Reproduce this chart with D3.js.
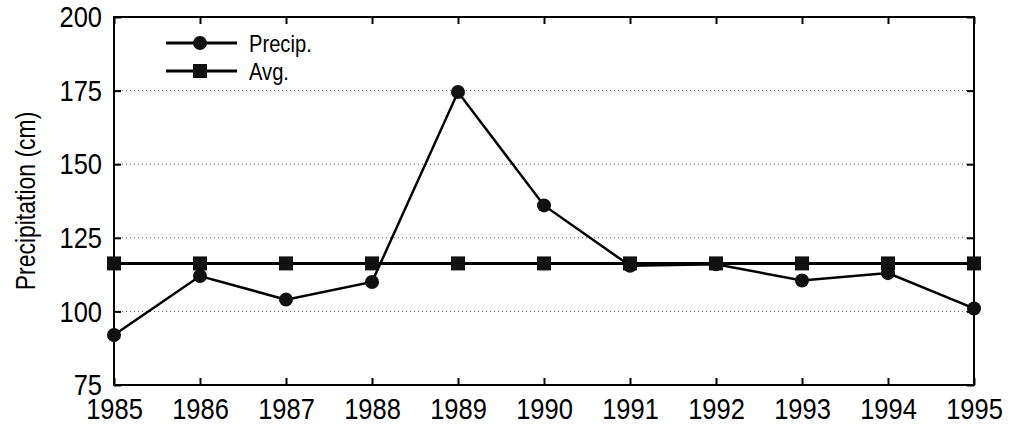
<!DOCTYPE html>
<html>
<head>
<meta charset="utf-8">
<script src="https://cdn.jsdelivr.net/npm/d3@7"></script>
<style>
  body { margin: 0; background: #fff; }
  svg { font-family: "Liberation Sans", Arial, sans-serif; }
</style>
</head>
<body>
<svg width="1013" height="433"></svg>
<script>
  var years = [1985, 1986, 1987, 1988, 1989, 1990, 1991, 1992, 1993, 1994, 1995];
  var precip = [92, 112, 104, 110, 174.5, 136, 115.5, 116, 110.5, 113, 101];
  var avg = [116.3, 116.3, 116.3, 116.3, 116.3, 116.3, 116.3, 116.3, 116.3, 116.3, 116.3];
  var yTicks = [75, 100, 125, 150, 175, 200];
  var gridTicks = [100, 125, 150, 175];
  var seriesNames = ["Precip.", "Avg."];

  var svg = d3.select("svg");
  var pLeft = 114, pRight = 974, pTop = 17, pBottom = 385;
  var x = d3.scaleLinear().domain([1985, 1995]).range([pLeft, pRight]);
  var y = d3.scaleLinear().domain([75, 200]).range([pBottom, pTop]);

  // squeeze text horizontally to mimic a condensed face
  function condense(sel, size, factor) {
    sel.style("font-size", size + "px").attr("fill", "#000");
    sel.each(function () {
      var len = this.getComputedTextLength();
      d3.select(this).attr("textLength", len * factor).attr("lengthAdjust", "spacingAndGlyphs");
    });
  }

  // dotted grid
  svg.append("g").selectAll("line").data(gridTicks).join("line")
    .attr("x1", pLeft).attr("x2", pRight)
    .attr("y1", d => y(d)).attr("y2", d => y(d))
    .attr("stroke", "#555").attr("stroke-width", 1).attr("stroke-dasharray", "1,3");

  // frame
  svg.append("rect").attr("x", pLeft).attr("y", pTop).attr("width", pRight - pLeft).attr("height", pBottom - pTop)
    .attr("fill", "none").attr("stroke", "#000").attr("stroke-width", 2);

  // axes with inward ticks
  var fmt = d3.format("d");
  var ax = svg.append("g").attr("transform", "translate(0," + pBottom + ")")
    .call(d3.axisBottom(x).tickValues(years).tickFormat(fmt).tickSize(-7).tickPadding(13));
  ax.select(".domain").remove();
  condense(ax.selectAll("text"), 30, 0.85);
  ax.selectAll("line").attr("stroke-width", 2);

  var axTop = svg.append("g").attr("transform", "translate(0," + pTop + ")")
    .call(d3.axisTop(x).tickValues(years).tickFormat("").tickSize(-7));
  axTop.select(".domain").remove();
  axTop.selectAll("line").attr("stroke-width", 2);

  var ay = svg.append("g").attr("transform", "translate(" + pLeft + ",0)")
    .call(d3.axisLeft(y).tickValues(yTicks).tickFormat(fmt).tickSize(-7).tickPadding(12));
  ay.select(".domain").remove();
  condense(ay.selectAll("text"), 30, 0.85);
  ay.selectAll("line").attr("stroke-width", 2);

  var ayR = svg.append("g").attr("transform", "translate(" + pRight + ",0)")
    .call(d3.axisRight(y).tickValues(yTicks).tickFormat("").tickSize(-7));
  ayR.select(".domain").remove();
  ayR.selectAll("line").attr("stroke-width", 2);

  var yl = svg.append("text").attr("transform", "translate(35," + ((pTop + pBottom) / 2) + ") rotate(-90)")
    .attr("text-anchor", "middle").text("Precipitation (cm)");
  condense(yl, 28, 0.82);

  var line = d3.line().x((d, i) => x(years[i])).y(d => y(d));

  // average line
  svg.append("path").datum(avg).attr("d", line).attr("fill", "none").attr("stroke", "#000").attr("stroke-width", 3);
  svg.append("g").selectAll("rect").data(avg).join("rect")
    .attr("x", (d, i) => x(years[i]) - 7).attr("y", d => y(d) - 7)
    .attr("width", 14).attr("height", 14).attr("fill", "#111");

  // precipitation line
  svg.append("path").datum(precip).attr("d", line).attr("fill", "none").attr("stroke", "#000").attr("stroke-width", 2.5);
  svg.append("g").selectAll("circle").data(precip).join("circle")
    .attr("cx", (d, i) => x(years[i])).attr("cy", d => y(d)).attr("r", 7).attr("fill", "#111");

  // legend
  var lg = svg.append("g");
  seriesNames.forEach(function (name, i) {
    var ly = 43 + i * 28;
    lg.append("line").attr("x1", 166).attr("x2", 237).attr("y1", ly).attr("y2", ly).attr("stroke", "#000").attr("stroke-width", 3);
    if (i == 0) {
      lg.append("circle").attr("cx", 200).attr("cy", ly).attr("r", 7).attr("fill", "#111");
    } else {
      lg.append("rect").attr("x", 193).attr("y", ly - 7).attr("width", 14).attr("height", 14).attr("fill", "#111");
    }
    var t = lg.append("text").attr("x", 249).attr("y", ly).attr("dy", "0.36em").text(name);
    condense(t, 24, 0.84);
  });
</script>
</body>
</html>
